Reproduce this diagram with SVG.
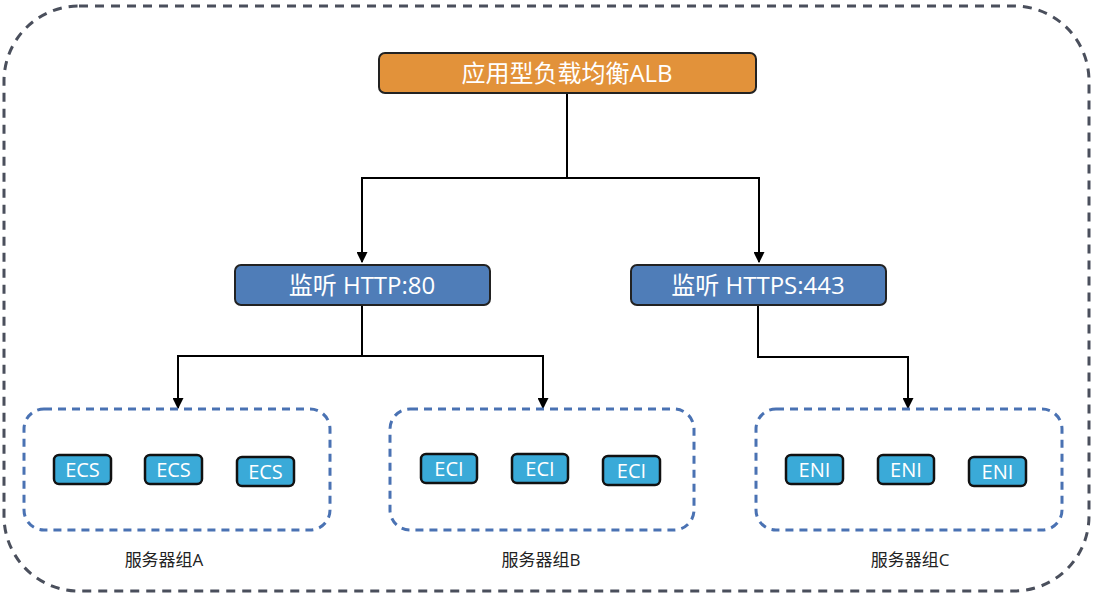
<svg xmlns="http://www.w3.org/2000/svg" width="1094" height="598" viewBox="0 0 1094 598">
<defs>
<marker id="arr" viewBox="0 0 10 10" refX="9" refY="5" markerWidth="5.5" markerHeight="5.5" orient="auto" markerUnits="strokeWidth">
<path d="M0,0 L10,5 L0,10 z" fill="#000"/>
</marker>
<style>
text{font-family:"Open Sans","Noto Sans CJK SC","Noto Sans",sans-serif;}
.outer{fill:none;stroke:#4a4f5c;stroke-width:3;stroke-dasharray:9 7;}
.grp{fill:none;stroke:#4a72b3;stroke-width:3;stroke-dasharray:8 6;}
.alb{fill:#e2923a;stroke:#222;stroke-width:2;}
.lis{fill:#4f7db8;stroke:#222;stroke-width:2;}
.srv{fill:#3aaad8;stroke:#111;stroke-width:2.5;}
.wt{fill:#fff;text-anchor:middle;}
.lbl{fill:#222;font-size:17px;text-anchor:middle;}
.conn{fill:none;stroke:#000;stroke-width:2;marker-end:url(#arr);}
</style>
</defs>
<rect width="1094" height="598" fill="#fff"/>
<rect class="outer" x="4" y="6" width="1085" height="585" rx="75"/>
<g id="connectors">
<path class="conn" d="M567,93 V178 H362 V262"/>
<path class="conn" d="M567,178 H759 V262"/>
<path class="conn" d="M362,305 V356 H178 V408"/>
<path class="conn" d="M362,356 H543 V408"/>
<path class="conn" d="M758,305 V357 H908 V408"/>
</g>
<g id="alb">
<rect class="alb" x="379" y="53" width="377" height="40" rx="6"/>
<text class="wt" x="567" y="82" font-size="24">应用型负载均衡ALB</text>
</g>
<g id="http">
<rect class="lis" x="235" y="265" width="255" height="40" rx="6"/>
<text class="wt" x="362" y="294" font-size="24">监听 HTTP:80</text>
</g>
<g id="https">
<rect class="lis" x="631" y="265" width="255" height="40" rx="6"/>
<text class="wt" x="758" y="294" font-size="24">监听 HTTPS:443</text>
</g>
<g id="groupA">
<rect class="grp" x="24" y="409" width="306" height="121" rx="20"/>
<text class="lbl" x="164" y="566">服务器组A</text>
</g>
<g id="groupB">
<rect class="grp" x="390" y="409" width="304" height="121" rx="20"/>
<text class="lbl" x="541" y="566">服务器组B</text>
</g>
<g id="groupC">
<rect class="grp" x="756" y="409" width="306" height="121" rx="20"/>
<text class="lbl" x="910" y="566">服务器组C</text>
</g>
<g id="ecs1"><rect class="srv" x="54" y="455" width="57" height="29" rx="5"/><text class="wt" x="82.5" y="477" font-size="20">ECS</text></g>
<g id="ecs2"><rect class="srv" x="145" y="455" width="57" height="29" rx="5"/><text class="wt" x="173.5" y="477" font-size="20">ECS</text></g>
<g id="ecs3"><rect class="srv" x="237" y="457" width="57" height="29" rx="5"/><text class="wt" x="265.5" y="479" font-size="20">ECS</text></g>
<g id="eci1"><rect class="srv" x="421" y="454" width="56" height="29" rx="5"/><text class="wt" x="449" y="476" font-size="20">ECI</text></g>
<g id="eci2"><rect class="srv" x="512" y="454" width="56" height="29" rx="5"/><text class="wt" x="540" y="476" font-size="20">ECI</text></g>
<g id="eci3"><rect class="srv" x="603" y="456" width="57" height="29" rx="5"/><text class="wt" x="631.5" y="478" font-size="20">ECI</text></g>
<g id="eni1"><rect class="srv" x="786" y="455" width="57" height="29" rx="5"/><text class="wt" x="814.5" y="477" font-size="20">ENI</text></g>
<g id="eni2"><rect class="srv" x="878" y="455" width="56" height="29" rx="5"/><text class="wt" x="906" y="477" font-size="20">ENI</text></g>
<g id="eni3"><rect class="srv" x="969" y="457" width="57" height="29" rx="5"/><text class="wt" x="997.5" y="479" font-size="20">ENI</text></g>
</svg>
